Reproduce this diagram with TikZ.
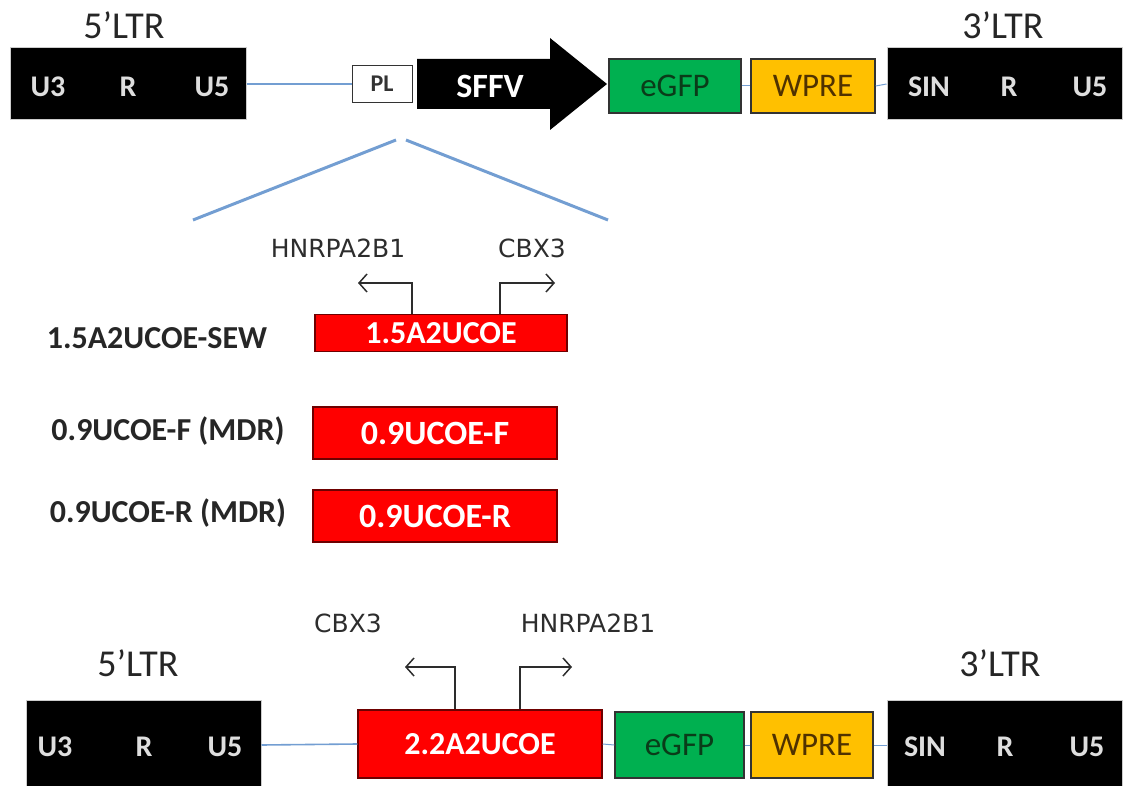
\documentclass[tikz,border=0pt]{standalone}
\usepackage{fontspec}
\setmainfont{Carlito}
\newfontfamily\genefont{DejaVu Sans}
\usepackage{tikz}
\usetikzlibrary{arrows.meta,positioning}
\definecolor{linkBlue}{RGB}{115,158,210}
\definecolor{ucoeRed}{RGB}{255,0,0}
\definecolor{ucoeEdge}{RGB}{110,0,0}
\definecolor{gfpGreen}{RGB}{0,176,80}
\definecolor{gfpText}{RGB}{10,60,25}
\definecolor{wpreGold}{RGB}{255,192,0}
\definecolor{wpreText}{RGB}{80,50,0}
\definecolor{labelGray}{RGB}{222,222,222}
\definecolor{geneGray}{RGB}{45,45,45}

\begin{document}
\begin{tikzpicture}[x=1pt, y=-1pt,
  ltrbox/.style={fill=black, draw=gray!40, line width=1pt, minimum width=236, minimum height=72, inner sep=0},
  ltrtext/.style={text=labelGray, font=\fontsize{30}{32}\selectfont\bfseries},
  ltrname/.style={text=black!85, font=\fontsize{38}{40}\selectfont},
  ucoebox/.style={fill=ucoeRed, draw=ucoeEdge, line width=1.5pt, minimum width=244, minimum height=52, inner sep=0, text=white, font=\fontsize{34}{36}\selectfont\bfseries},
  gfpbox/.style={fill=gfpGreen, draw=black!80, line width=1.5pt, minimum width=132, minimum height=54, inner sep=0, text=gfpText, font=\fontsize{33}{35}\selectfont},
  wprebox/.style={fill=wpreGold, draw=black!80, line width=1.5pt, minimum width=124, minimum height=54, inner sep=0, text=wpreText, font=\fontsize{33}{35}\selectfont},
  construct/.style={text=black!85, font=\fontsize{32}{34}\selectfont\bfseries},
  gene/.style={text=geneGray, font=\fontsize{25}{27}\genefont},
  link/.style={linkBlue, line width=1.6pt},
  tss/.style={geneGray, line width=1.5pt, -{Straight Barb[length=8pt,width=18pt,line width=1.5pt]}}]
  \useasboundingbox (0,0) rectangle (1127,786);

  % Top vector
  \node[ltrname] (ltrFiveLbl) at (124,25) {5’LTR};
  \node[ltrbox] (ltrFive) at (128,84) {};
  \node[ltrtext] (uThree) at (48,87) {U3};
  \node[ltrtext] (rFive) at (128,87) {R};
  \node[ltrtext] (uFive) at (212,87) {U5};
  \node[draw=black!80, line width=1pt, minimum width=60, minimum height=37, inner sep=0, text=black!80,
        font=\fontsize{24}{26}\selectfont\bfseries] (pl) at (382,84) {PL};
  \fill[black] (417,59) -- (550,59) -- (550,38) -- (607,84) -- (550,130) -- (550,109) -- (417,109) -- cycle;
  \node[text=white, font=\fontsize{34}{36}\selectfont\bfseries] (sffv) at (490,86) {SFFV};
  \node[gfpbox] (gfpTop) at (675,86) {eGFP};
  \node[wprebox] (wpreTop) at (813,86) {WPRE};
  \node[ltrbox, minimum width=235] (ltrThree) at (1004.5,84) {};
  \node[ltrname] (ltrThreeLbl) at (1003,25) {3’LTR};
  \node[ltrtext] (sinThree) at (929,87) {SIN};
  \node[ltrtext] (rThree) at (1009,87) {R};
  \node[ltrtext] (uFiveThree) at (1090,87) {U5};
  \draw[link] (ltrFive.east) -- (pl.west);
  \draw[link, line width=1pt] (gfpTop.east) -- (wpreTop.west);
  \draw[link, line width=1pt] (wpreTop.east) -- (ltrThree.west);

  % Zoom on PL
  \coordinate (zoomTopL) at (396,140);
  \coordinate (zoomTopR) at (406,140);
  \coordinate (zoomL) at (193,220);
  \coordinate (zoomR) at (608,220);
  \draw[link, line width=3pt] (zoomTopL) -- (zoomL);
  \draw[link, line width=3pt] (zoomTopR) -- (zoomR);

  % UCOE inserts
  \node[ucoebox, minimum width=252, minimum height=37, font=\fontsize{32}{34}\selectfont\bfseries] (ucoeOne) at (441,333) {1.5A2UCOE};
  \node[construct] (sewLbl) at (157,338) {1.5A2UCOE-SEW};
  \node[gene] (hnrOne) at (338,248) {HNRPA2B1};
  \node[gene] (cbxOne) at (532,248) {CBX3};
  \draw[tss] (ucoeOne.north -| 412,0) |- (358,283);
  \draw[tss] (ucoeOne.north -| 500,0) |- (555,283);
  \node[ucoebox] (ucoeF) at (435,433) {0.9UCOE-F};
  \node[construct] (fLbl) at (168,431) {0.9UCOE-F (MDR)};
  \node[ucoebox] (ucoeR) at (435,516) {0.9UCOE-R};
  \node[construct] (rLbl) at (168,513) {0.9UCOE-R (MDR)};

  % Bottom vector
  \node[ltrname] (ltrFiveLblB) at (138,663) {5’LTR};
  \node[ltrbox, minimum width=235, minimum height=90] (ltrFiveB) at (143.5,745) {};
  \node[ltrtext] (uThreeB) at (55,747) {U3};
  \node[ltrtext] (rFiveB) at (144,747) {R};
  \node[ltrtext] (uFiveB) at (225,747) {U5};
  \node[ucoebox, minimum height=68, font=\fontsize{32}{34}\selectfont\bfseries] (ucoeTwo) at (480,744) {2.2A2UCOE};
  \node[gene] (cbxTwo) at (348,623) {CBX3};
  \node[gene] (hnrTwo) at (588,623) {HNRPA2B1};
  \draw[tss] (ucoeTwo.north -| 455,0) |- (405,667);
  \draw[tss] (ucoeTwo.north -| 520,0) |- (572,667);
  \node[gfpbox, minimum width=129, minimum height=66] (gfpB) at (679.5,745) {eGFP};
  \node[wprebox, minimum width=122, minimum height=66] (wpreB) at (812,745) {WPRE};
  \node[ltrbox, minimum width=235, minimum height=90] (ltrThreeB) at (1004.5,745) {};
  \node[ltrname] (ltrThreeLblB) at (1000,663) {3’LTR};
  \node[ltrtext] (sinThreeB) at (925,747) {SIN};
  \node[ltrtext] (rThreeB) at (1005,747) {R};
  \node[ltrtext] (uFiveThreeB) at (1087,747) {U5};
  \draw[link] (ltrFiveB.east) -- (ucoeTwo.west);
  \draw[link, line width=1pt] (ucoeTwo.east) -- (gfpB.west);
  \draw[link, line width=1pt] (gfpB.east) -- (wpreB.west);
  \draw[link, line width=1pt] (wpreB.east) -- (ltrThreeB.west);
\end{tikzpicture}
\end{document}
